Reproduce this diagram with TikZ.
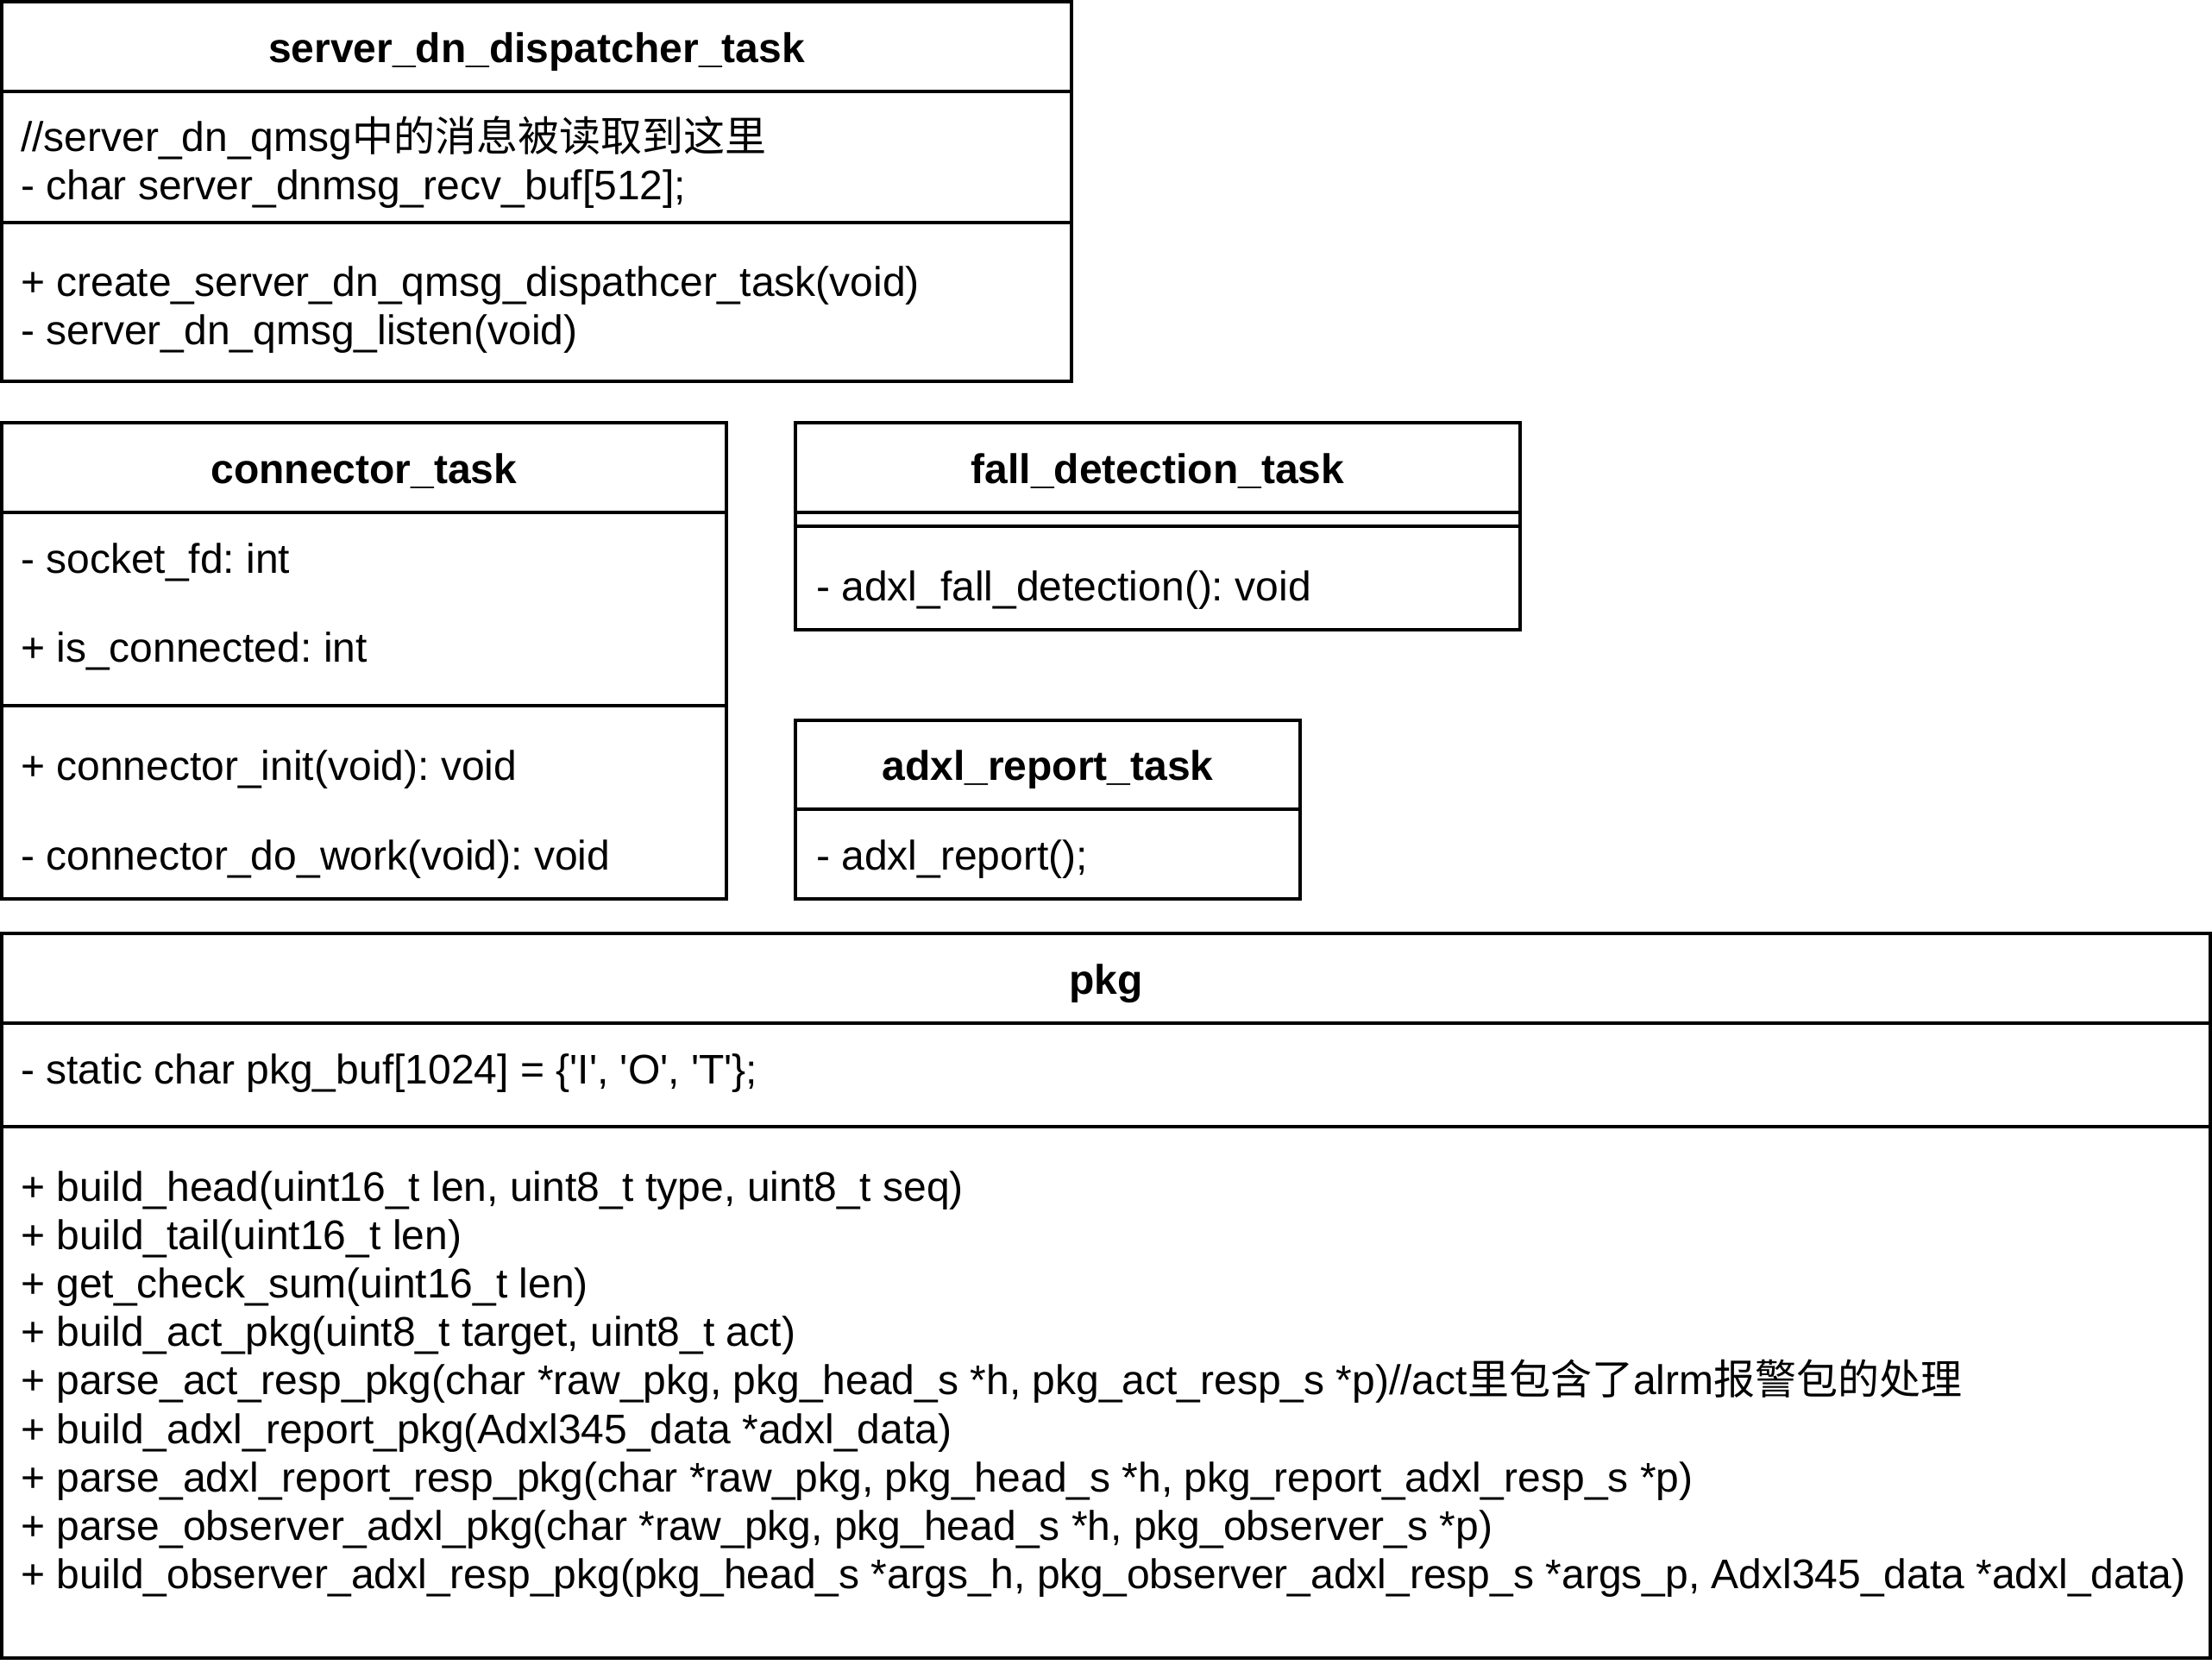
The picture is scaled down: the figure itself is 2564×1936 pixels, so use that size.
\documentclass[tikz,border=0pt]{standalone}
\usepackage{fontspec}
\setmainfont{Liberation Sans}[Ligatures=TeXOff]
\newfontfamily\cjk{Noto Sans CJK SC}
\frenchspacing
\begin{document}
\begin{tikzpicture}[x=1pt,y=-1pt,
  umlbox/.style={draw=black,line width=4pt,fill=white,anchor=north west,inner sep=0pt,outer sep=0pt},
  umlsep/.style={draw=black,line width=4pt},
  ttl/.style={anchor=base,inner sep=0pt,font=\fontsize{48}{56}\selectfont\bfseries\frenchspacing},
  txt/.style={anchor=base west,inner sep=0pt,font=\fontsize{48}{56}\selectfont\frenchspacing}]
\useasboundingbox[fill=white] (0,0) rectangle (2564,1936);

% ---------- server_dn_dispatcher_task ----------
\node[umlbox,minimum width=1240pt,minimum height=440pt] (sdt) at (2,2) {};
\coordinate (sdtA) at (0,106);
\coordinate (sdtB) at (0,258);
\draw[umlsep] (sdt.west |- sdtA) -- (sdt.east |- sdtA);
\draw[umlsep] (sdt.west |- sdtB) -- (sdt.east |- sdtB);
\node[ttl] (sdtT) at (622,72.5) {server\_dn\_dispatcher\_task};
\node[txt] (sdtA1) at (24,175) {//server\_dn\_qmsg{\cjk 中的消息被读取到这里}};
\node[txt] (sdtA2) at (24,231) {- char server\_dnmsg\_recv\_buf[512];};
\node[txt] (sdtM1) at (24,343) {+ create\_server\_dn\_qmsg\_dispathcer\_task(void)};
\node[txt] (sdtM2) at (24,399) {- server\_dn\_qmsg\_listen(void)};

% ---------- connector_task ----------
\node[umlbox,minimum width=840pt,minimum height=552pt] (con) at (2,490) {};
\coordinate (conA) at (0,594);
\coordinate (conB) at (0,818);
\draw[umlsep] (con.west |- conA) -- (con.east |- conA);
\draw[umlsep] (con.west |- conB) -- (con.east |- conB);
\node[ttl] (conT) at (422,560) {connector\_task};
\node[txt] (conA1) at (24,664) {- socket\_fd: int};
\node[txt] (conA2) at (24,767) {+ is\_connected: int};
\node[txt] (conM1) at (24,904) {+ connector\_init(void): void};
\node[txt] (conM2) at (24,1008) {- connector\_do\_work(void): void};

% ---------- fall_detection_task ----------
\node[umlbox,minimum width=840pt,minimum height=240pt] (fall) at (922,490) {};
\coordinate (fallA) at (0,594);
\coordinate (fallB) at (0,610);
\draw[umlsep] (fall.west |- fallA) -- (fall.east |- fallA);
\draw[umlsep] (fall.west |- fallB) -- (fall.east |- fallB);
\node[ttl] (fallT) at (1342,560) {fall\_detection\_task};
\node[txt] (fallM1) at (946,696) {- adxl\_fall\_detection(): void};

% ---------- adxl_report_task ----------
\node[umlbox,minimum width=585pt,minimum height=207pt] (rep) at (922,835) {};
\coordinate (repA) at (0,938);
\draw[umlsep] (rep.west |- repA) -- (rep.east |- repA);
\node[ttl] (repT) at (1214.5,904.5) {adxl\_report\_task};
\node[txt] (repM1) at (946,1008) {- adxl\_report();};

% ---------- pkg ----------
\node[umlbox,minimum width=2560pt,minimum height=840pt] (pkg) at (2,1082) {};
\coordinate (pkgA) at (0,1186);
\coordinate (pkgB) at (0,1306);
\draw[umlsep] (pkg.west |- pkgA) -- (pkg.east |- pkgA);
\draw[umlsep] (pkg.west |- pkgB) -- (pkg.east |- pkgB);
\node[ttl] (pkgT) at (1282,1152.5) {pkg};
\node[txt] (pkgA1) at (24,1256) {- static char pkg\_buf[1024] = \{'I', 'O', 'T'\};};
\node[txt] (pkgM1) at (24,1392) {+ build\_head(uint16\_t len, uint8\_t type, uint8\_t seq)};
\node[txt] (pkgM2) at (24,1448.2) {+ build\_tail(uint16\_t len)};
\node[txt] (pkgM3) at (24,1504.4) {+ get\_check\_sum(uint16\_t len)};
\node[txt] (pkgM4) at (24,1560.6) {+ build\_act\_pkg(uint8\_t target, uint8\_t act)};
\node[txt] (pkgM5) at (24,1616.8) {+ parse\_act\_resp\_pkg(char *raw\_pkg, pkg\_head\_s *h, pkg\_act\_resp\_s *p)//act{\cjk 里包含了}alrm{\cjk 报警包的处理}};
\node[txt] (pkgM6) at (24,1673) {+ build\_adxl\_report\_pkg(Adxl345\_data *adxl\_data)};
\node[txt] (pkgM7) at (24,1729.2) {+ parse\_adxl\_report\_resp\_pkg(char *raw\_pkg, pkg\_head\_s *h, pkg\_report\_adxl\_resp\_s *p)};
\node[txt] (pkgM8) at (24,1785.4) {+ parse\_observer\_adxl\_pkg(char *raw\_pkg, pkg\_head\_s *h, pkg\_observer\_s *p)};
\node[txt] (pkgM9) at (24,1841.6) {+ build\_observer\_adxl\_resp\_pkg(pkg\_head\_s *args\_h, pkg\_observer\_adxl\_resp\_s *args\_p, Adxl345\_data *adxl\_data)};
\end{tikzpicture}
\end{document}
